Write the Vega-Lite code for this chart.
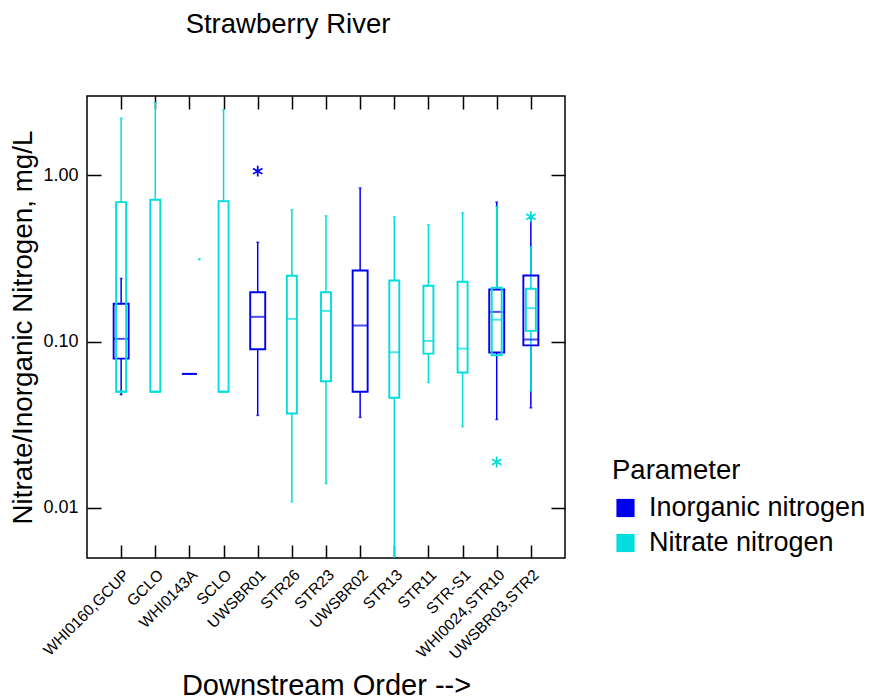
{
  "$schema": "https://vega.github.io/schema/vega-lite/v6.json",
  "width": 478,
  "height": 462,
  "autosize": "none",
  "padding": {"left": 87, "top": 96, "right": 310, "bottom": 142},
  "title": {"text": "Strawberry River", "fontSize": 27.5, "fontWeight": "normal", "font": "Liberation Sans", "color": "#000", "anchor": "middle", "frame": "group", "dx": -38, "offset": 57},
  "datasets": {
    "boxes": [
      {"site": "WHI0160,GCUP", "param": "Inorganic nitrogen", "lo": 0.048, "q1": 0.079, "med": 0.104, "q3": 0.169, "hi": 0.24},
      {"site": "WHI0143A", "param": "Inorganic nitrogen", "lo": 0.064, "q1": 0.064, "med": 0.064, "q3": 0.064, "hi": 0.064},
      {"site": "UWSBR01", "param": "Inorganic nitrogen", "lo": 0.036, "q1": 0.09, "med": 0.141, "q3": 0.198, "hi": 0.396},
      {"site": "UWSBR02", "param": "Inorganic nitrogen", "lo": 0.035, "q1": 0.05, "med": 0.125, "q3": 0.268, "hi": 0.84},
      {"site": "WHI0024,STR10", "param": "Inorganic nitrogen", "lo": 0.034, "q1": 0.086, "med": 0.151, "q3": 0.206, "hi": 0.69},
      {"site": "UWSBR03,STR2", "param": "Inorganic nitrogen", "lo": 0.04, "q1": 0.095, "med": 0.103, "q3": 0.25, "hi": 0.55},
      {"site": "WHI0160,GCUP", "param": "Nitrate nitrogen", "lo": 0.05, "q1": 0.05, "med": 0.05, "q3": 0.69, "hi": 2.21},
      {"site": "GCLO", "param": "Nitrate nitrogen", "lo": 0.05, "q1": 0.05, "med": 0.05, "q3": 0.713, "hi": 2.74},
      {"site": "SCLO", "param": "Nitrate nitrogen", "lo": 0.05, "q1": 0.05, "med": 0.05, "q3": 0.7, "hi": 2.48},
      {"site": "STR26", "param": "Nitrate nitrogen", "lo": 0.0109, "q1": 0.037, "med": 0.137, "q3": 0.249, "hi": 0.621},
      {"site": "STR23", "param": "Nitrate nitrogen", "lo": 0.014, "q1": 0.0578, "med": 0.153, "q3": 0.198, "hi": 0.571},
      {"site": "STR13", "param": "Nitrate nitrogen", "lo": 0.0045, "q1": 0.046, "med": 0.0863, "q3": 0.233, "hi": 0.564},
      {"site": "STR11", "param": "Nitrate nitrogen", "lo": 0.0568, "q1": 0.0847, "med": 0.101, "q3": 0.217, "hi": 0.505},
      {"site": "STR-S1", "param": "Nitrate nitrogen", "lo": 0.0308, "q1": 0.0652, "med": 0.0908, "q3": 0.229, "hi": 0.596},
      {"site": "WHI0024,STR10", "param": "Nitrate nitrogen", "lo": 0.0828, "q1": 0.0828, "med": 0.1356, "q3": 0.211, "hi": 0.65},
      {"site": "UWSBR03,STR2", "param": "Nitrate nitrogen", "lo": 0.0504, "q1": 0.116, "med": 0.159, "q3": 0.208, "hi": 0.372}
    ],
    "outliers": [
      {"site": "UWSBR01", "param": "Inorganic nitrogen", "value": 1.06},
      {"site": "WHI0024,STR10", "param": "Nitrate nitrogen", "value": 0.0189},
      {"site": "UWSBR03,STR2", "param": "Nitrate nitrogen", "value": 0.564}
    ],
    "dots": [
      {"site": "WHI0143A", "param": "Nitrate nitrogen", "value": 0.313}
    ]
  },
  "layer": [
    {
      "data": {"name": "boxes"},
      "mark": {"type": "bar", "filled": true, "opacity": 1, "size": 1},
      "encoding": {
        "x": {"field": "site", "type": "nominal", "sort": null,
          "scale": {"type": "point", "padding": 1, "domain": ["WHI0160,GCUP", "GCLO", "WHI0143A", "SCLO", "UWSBR01", "STR26", "STR23", "UWSBR02", "STR13", "STR11", "STR-S1", "WHI0024,STR10", "UWSBR03,STR2"]},
          "axis": null},
        "y": {"field": "q1", "type": "quantitative",
          "scale": {"type": "log", "domain": [0.005, 3], "nice": false},
          "axis": null},
        "y2": {"field": "q1"},
        "color": {"field": "param", "type": "nominal",
          "scale": {"domain": ["Inorganic nitrogen", "Nitrate nitrogen"], "range": ["#0000EE", "#00DDDD"]},
          "legend": {"orient": "none", "legendX": 525, "legendY": 361, "title": "Parameter", "titleFontSize": 27.5, "titleFontWeight": "normal", "titleColor": "#000", "titlePadding": 10, "labelFontSize": 27, "labelColor": "#000", "labelLimit": 400, "labelOffset": 10, "rowPadding": 7, "symbolType": "square", "symbolSize": 330, "symbolStrokeWidth": 0, "padding": 0}}
      }
    },
    {
      "data": {"name": "boxes"},
      "mark": {"type": "rule", "strokeWidth": 1.5, "clip": true},
      "encoding": {
        "x": {"field": "site", "type": "nominal", "sort": null,
          "axis": {"orient": "bottom", "title": "Downstream Order -->", "titleFontSize": 29, "titleFontWeight": "normal", "titlePadding": 9, "labelAngle": -45, "labelFontSize": 15.5, "tickSize": -13, "labelPadding": 22, "labelLimit": 300, "domain": false, "tickColor": "#000", "tickWidth": 1.5, "labelColor": "#000", "titleColor": "#000"}},
        "y": {"field": "lo", "type": "quantitative",
          "axis": {"orient": "left", "title": "Nitrate/Inorganic Nitrogen, mg/L", "titleFontSize": 27.8, "titleFontWeight": "normal", "titlePadding": 5, "values": [0.01, 0.1, 1], "format": ".2f", "labelFontSize": 18, "tickSize": -14, "labelPadding": 23, "domain": false, "grid": false, "tickColor": "#000", "tickWidth": 1.5, "labelColor": "#000", "titleColor": "#000"}},
        "y2": {"field": "q1"},
        "color": {"field": "param", "type": "nominal"}
      }
    },
    {
      "data": {"name": "boxes"},
      "mark": {"type": "rule", "strokeWidth": 1.5, "clip": true},
      "encoding": {
        "x": {"field": "site", "type": "nominal", "sort": null,
          "axis": {"orient": "top", "title": null, "labels": false, "tickSize": -13, "domain": false, "tickColor": "#000", "tickWidth": 1.5}},
        "y": {"field": "q3", "type": "quantitative",
          "axis": {"orient": "right", "title": null, "labels": false, "values": [0.01, 0.1, 1], "tickSize": -14, "domain": false, "grid": false, "tickColor": "#000", "tickWidth": 1.5}},
        "y2": {"field": "hi"},
        "color": {"field": "param", "type": "nominal"}
      }
    },
    {
      "data": {"name": "boxes"},
      "mark": {"type": "tick", "size": 3, "thickness": 1.5, "clip": true},
      "encoding": {
        "x": {"field": "site", "type": "nominal", "sort": null, "axis": null},
        "y": {"field": "lo", "type": "quantitative", "axis": null},
        "color": {"field": "param", "type": "nominal"}
      }
    },
    {
      "data": {"name": "boxes"},
      "mark": {"type": "tick", "size": 3, "thickness": 1.5, "clip": true},
      "encoding": {
        "x": {"field": "site", "type": "nominal", "sort": null, "axis": null},
        "y": {"field": "hi", "type": "quantitative", "axis": null},
        "color": {"field": "param", "type": "nominal"}
      }
    },
    {
      "data": {"name": "boxes"},
      "transform": [{"filter": "datum.param == 'Inorganic nitrogen'"}],
      "mark": {"type": "bar", "filled": false, "strokeWidth": 1.9, "fill": "transparent", "size": 15},
      "encoding": {
        "x": {"field": "site", "type": "nominal", "sort": null, "axis": null},
        "y": {"field": "q1", "type": "quantitative", "axis": null},
        "y2": {"field": "q3"},
        "color": {"field": "param", "type": "nominal"}
      }
    },
    {
      "data": {"name": "boxes"},
      "transform": [{"filter": "datum.param == 'Inorganic nitrogen'"}],
      "mark": {"type": "tick", "thickness": 2, "size": 15},
      "encoding": {
        "x": {"field": "site", "type": "nominal", "sort": null, "axis": null},
        "y": {"field": "med", "type": "quantitative", "axis": null},
        "color": {"field": "param", "type": "nominal"}
      }
    },
    {
      "data": {"name": "boxes"},
      "transform": [{"filter": "datum.param == 'Nitrate nitrogen'"}],
      "mark": {"type": "bar", "filled": false, "strokeWidth": 1.9, "fill": "transparent", "size": 10},
      "encoding": {
        "x": {"field": "site", "type": "nominal", "sort": null, "axis": null},
        "y": {"field": "q1", "type": "quantitative", "axis": null},
        "y2": {"field": "q3"},
        "color": {"field": "param", "type": "nominal"}
      }
    },
    {
      "data": {"name": "boxes"},
      "transform": [{"filter": "datum.param == 'Nitrate nitrogen'"}],
      "mark": {"type": "tick", "thickness": 2, "size": 10},
      "encoding": {
        "x": {"field": "site", "type": "nominal", "sort": null, "axis": null},
        "y": {"field": "med", "type": "quantitative", "axis": null},
        "color": {"field": "param", "type": "nominal"}
      }
    },
    {
      "data": {"name": "outliers"},
      "mark": {"type": "point", "filled": false, "strokeWidth": 1.7, "opacity": 1, "shape": "M0,-1L0,1M-0.866,-0.5L0.866,0.5M-0.866,0.5L0.866,-0.5", "size": 120},
      "encoding": {
        "x": {"field": "site", "type": "nominal", "sort": null, "axis": null},
        "y": {"field": "value", "type": "quantitative", "axis": null},
        "stroke": {"field": "param", "type": "nominal", "scale": {"domain": ["Inorganic nitrogen", "Nitrate nitrogen"], "range": ["#0000EE", "#00DDDD"]}, "legend": null}
      }
    },
    {
      "data": {"name": "dots"},
      "mark": {"type": "point", "filled": true, "shape": "square", "size": 5, "opacity": 1, "xOffset": 10, "color": "#00DDDD"},
      "encoding": {
        "x": {"field": "site", "type": "nominal", "sort": null, "axis": null},
        "y": {"field": "value", "type": "quantitative", "axis": null}
      }
    }
  ],
  "config": {
    "font": "Liberation Sans",
    "view": {"stroke": "#000", "strokeWidth": 1.5},
    "background": "white"
  }
}
